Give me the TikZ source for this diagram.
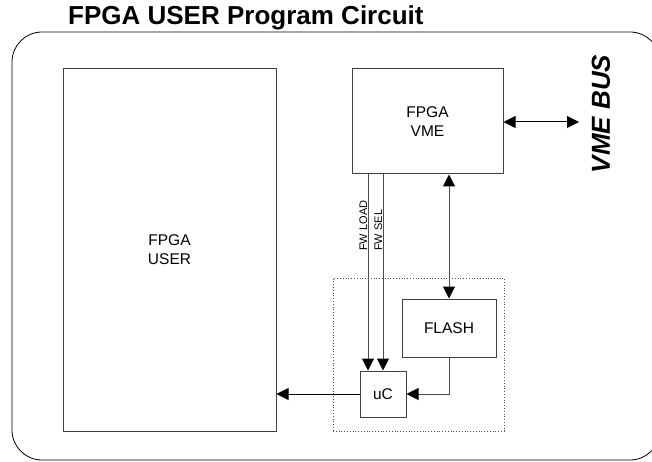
\documentclass[tikz,border=0pt]{standalone}
\usepackage{fontspec}
\setmainfont{Liberation Sans}
\usetikzlibrary{positioning, arrows.meta}

\begin{document}
\begin{tikzpicture}[
	x=10pt, y=10pt,
	blk/.style={rectangle, draw=black!75, line width=1pt, align=center, inner sep=0pt,
		font=\fontsize{15.5}{19}\selectfont},
	arrow/.style={-{Triangle[length=12pt, width=12pt, black]}, line width=1pt, draw=black!70},
	dblarrow/.style={{Triangle[length=12pt, width=12pt, black]}-{Triangle[length=12pt, width=12pt, black]},
		line width=1pt, draw=black!70},
	sig/.style={font=\fontsize{11}{13}\selectfont, rotate=90, anchor=base west, inner sep=0pt}
	]

	\useasboundingbox (0,0) rectangle (65.2,46.1);

	% outer frame and title
	\draw[line width=0.8pt, rounded corners=30pt] (1.2,0.1) rectangle (66.0,42.9);
	\node[anchor=base west, inner sep=0pt, font=\fontsize{26}{30}\selectfont\bfseries] (title)
		at (6.8,43.6) {FPGA USER Program Circuit};

	% blocks
	\node[blk, minimum width=213pt, minimum height=362pt] (user) at (16.95,21.1) {FPGA\\USER};
	\node[blk, minimum width=151pt, minimum height=105pt] (vme) at (42.75,33.95) {FPGA\\VME};
	\node[draw=black!70, dotted, line width=0.8pt, minimum width=171pt, minimum height=153pt]
		(mcu) at (41.85,10.65) {};
	\node[blk, minimum width=94pt, minimum height=58pt] (flash) at (44.9,13.3) {FLASH};
	\node[blk, minimum width=46pt, minimum height=46pt] (uc) at (38.3,6.7) {uC};

	% VME bus
	\coordinate (bus) at (57.9,33.9);
	\draw[dblarrow, draw=black] (vme.east |- bus) -- (bus);
	\node[rotate=90, inner sep=0pt, font=\fontsize{26}{30}\selectfont\bfseries\itshape] (busname)
		at (60.1,34.7) {VME BUS};

	% firmware lines
	\path ([xshift=-15pt]uc.north) coordinate (ldbot);
	\draw[arrow] (ldbot |- vme.south) -- (ldbot);
	\draw[arrow] (uc.north |- vme.south) -- (uc.north);
	\node[sig] (fwload) at (36.7,21.0) {FW LOAD};
	\node[sig] (fwsel) at (38.2,21.0) {FW SEL};

	% flash and uC connections
	\draw[dblarrow] (flash.north |- vme.south) -- (flash.north);
	\draw[arrow] (flash.south) |- (uc.east);
	\draw[arrow, draw=black] (uc.west) -- (user.east |- uc.west);

\end{tikzpicture}
\end{document}
